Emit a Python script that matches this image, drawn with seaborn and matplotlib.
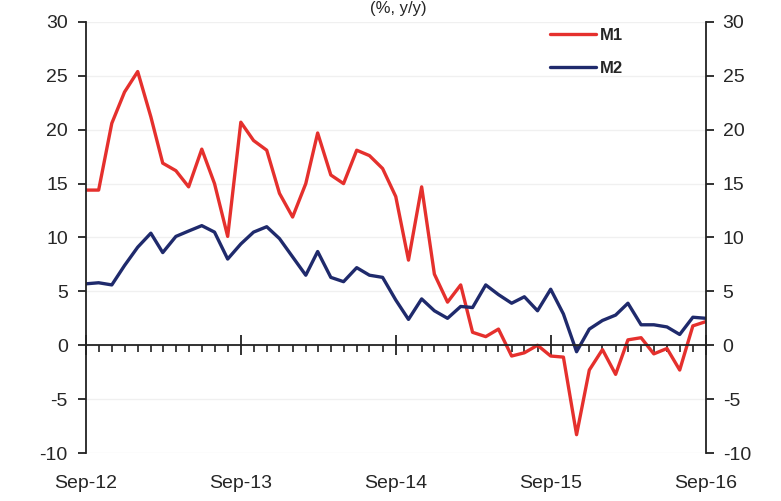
import pandas as pd
import numpy as np
import matplotlib
matplotlib.use("Agg")
import matplotlib.pyplot as plt
import matplotlib.dates as mdates
import seaborn as sns

# --- data (monthly, % y/y) ---
months = pd.date_range("2012-09-01", "2016-09-01", freq="MS")
m1 = [14.4, 14.4, 20.6, 23.5, 25.4, 21.2, 16.9, 16.2, 14.7, 18.2, 15.0, 10.1,
      20.7, 19.0, 18.1, 14.1, 11.9, 15.0, 19.7, 15.8, 15.0, 18.1, 17.6, 16.4,
      13.8, 7.9, 14.7, 6.6, 4.0, 5.6, 1.2, 0.8, 1.5, -1.0, -0.7, 0.0,
      -1.0, -1.1, -8.3, -2.3, -0.4, -2.7, 0.5, 0.7, -0.8, -0.3, -2.3, 1.8, 2.2]
m2 = [5.7, 5.8, 5.6, 7.4, 9.1, 10.4, 8.6, 10.1, 10.6, 11.1, 10.5, 8.0,
      9.4, 10.5, 11.0, 9.9, 8.2, 6.5, 8.7, 6.3, 5.9, 7.2, 6.5, 6.3,
      4.2, 2.4, 4.3, 3.2, 2.5, 3.6, 3.5, 5.6, 4.7, 3.9, 4.5, 3.2,
      5.2, 2.9, -0.6, 1.5, 2.3, 2.8, 3.9, 1.9, 1.9, 1.7, 1.0, 2.6, 2.5]
series_names = ["M1", "M2"]
series_colors = ["#e5302d", "#1f2a6c"]
y_ticks = [-10, -5, 0, 5, 10, 15, 20, 25, 30]

df = pd.DataFrame({"date": list(months) * 2,
                   "value": m1 + m2,
                   "series": ["M1"] * len(m1) + ["M2"] * len(m2)})

sns.set_style("white")
plt.rcParams["font.family"] = ["Liberation Sans", "DejaVu Sans"]
plt.rcParams["axes.unicode_minus"] = False

fig = plt.figure(figsize=(7.81, 5.01), dpi=100)
ax = fig.add_axes([0.110, 0.0958, 0.794, 0.8603])

sns.lineplot(data=df, x="date", y="value", hue="series",
             palette=dict(zip(series_names, series_colors)),
             linewidth=2.4, ax=ax, legend=True)

ax.set_xlim(months[0], months[-1])
ax.set_ylim(-10, 30)
ax.set_yticks(y_ticks)
ax.set_xlabel("")
ax.set_ylabel("")
for y in y_ticks:
    ax.axhline(y, color="#f0f0f0", linewidth=1.0, zorder=0)

# x axis sits on zero line
ax.spines["top"].set_visible(False)
ax.spines["right"].set_visible(False)
ax.spines["bottom"].set_position(("data", 0))
for s in ["bottom", "left"]:
    ax.spines[s].set_linewidth(1.3)
    ax.spines[s].set_color("#222222")
ax.xaxis.set_major_locator(mdates.MonthLocator(bymonth=9))
ax.xaxis.set_minor_locator(mdates.MonthLocator())
ax.tick_params(axis="x", which="major", direction="inout", length=14, width=1.3,
               bottom=True, labelbottom=False, color="#222222")
ax.tick_params(axis="x", which="minor", direction="out", length=5, width=1.2,
               bottom=True, color="#222222")
ax.tick_params(axis="y", direction="out", length=6, width=1.3, labelsize=14,
               pad=7, left=True, color="#222222")

# x labels at the bottom
sec = ax.secondary_xaxis("bottom")
sec.xaxis.set_major_locator(mdates.MonthLocator(bymonth=9))
sec.xaxis.set_major_formatter(mdates.DateFormatter("Sep-%y"))
sec.spines["bottom"].set_visible(False)
sec.tick_params(axis="x", length=0, labelsize=14, pad=16)

# right axis
ax2 = ax.twinx()
ax2.set_ylim(-10, 30)
ax2.set_yticks(y_ticks)
for s in ["top", "bottom", "left"]:
    ax2.spines[s].set_visible(False)
ax2.spines["right"].set_linewidth(1.3)
ax2.spines["right"].set_color("#222222")
ax2.tick_params(axis="y", direction="out", length=6, width=1.3, labelsize=14,
                pad=6, right=True, color="#222222")
ax2.grid(False)

leg = ax.legend(frameon=False, loc="upper right", bbox_to_anchor=(0.89, 1.022),
                fontsize=12, handlelength=2.8, handletextpad=0.2,
                labelspacing=1.1)
for t in leg.get_texts():
    t.set_fontweight("bold")

fig.text(0.51, 0.999, "(%, y/y)", ha="center", va="top", fontsize=12)

fig.savefig("out.png", dpi=100)
